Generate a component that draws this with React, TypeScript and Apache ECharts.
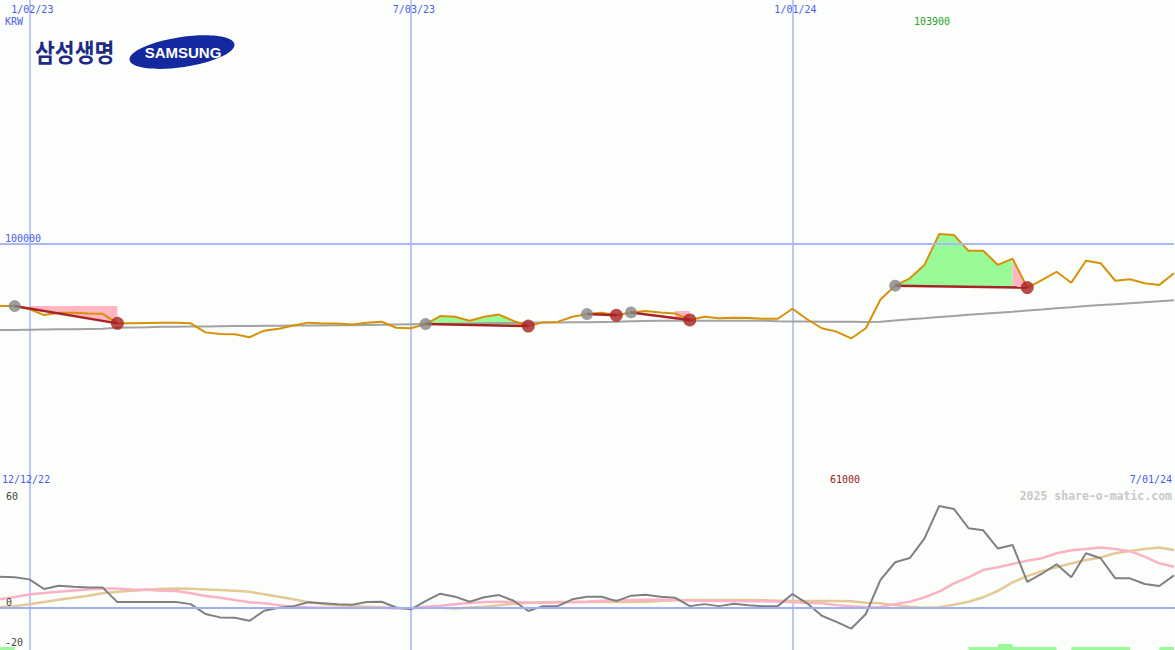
import React, { useEffect, useRef } from "react";
import * as echarts from "echarts";

// ---- categories: weekly closes, 12/19/22 .. 7/01/24 ----
const weeks: string[] = [];
for (let i = 0; i < 81; i++) {
  const d = new Date(Date.UTC(2022, 11, 19 + 7 * i));
  weeks.push(
    `${d.getUTCMonth() + 1}/${String(d.getUTCDate()).padStart(2, "0")}/${String(d.getUTCFullYear()).slice(2)}`
  );
}
const gridWeeks = ["1/02/23", "7/03/23", "1/01/24"];

// ---- price panel (KRW) ----
const close = [
  74300, 74300, 73100, 70600, 71600, 71600, 71300, 71100,
  67200, 67200, 67400, 67500, 67500, 67200, 63500, 62800,
  62700, 61500, 64200, 65000, 66300, 67500, 67100, 67100,
  66700, 67500, 67900, 65400, 65200, 66900, 70200, 69900,
  68300, 69900, 70800, 68200, 66100, 67600, 67800, 69900,
  71000, 71600, 70500, 71700, 72300, 71700, 71300, 68600,
  69900, 69300, 69500, 69400, 69100, 69100, 73200, 68900,
  65200, 63800, 61000, 65200, 77000, 82700, 85700, 91200,
  103900, 103500, 97000, 97000, 91200, 93800, 81900, 85000,
  88400, 83900, 92900, 91900, 84700, 85300, 83700, 83000, 87800,
];
const longMA = [
  64500, 64500, 64600, 64700, 64800, 64800, 64900, 65000,
  65400, 65500, 65600, 65800, 65800, 65900, 65900, 66000,
  66100, 66100, 66200, 66200, 66300, 66300, 66300, 66400,
  66400, 66500, 66600, 66700, 66800, 66900, 67000, 67000,
  67100, 67200, 67300, 67400, 67500, 67600, 67600, 67700,
  67700, 67800, 67900, 68100, 68200, 68300, 68300, 68300,
  68300, 68300, 68300, 68300, 68300, 68100, 68000, 68000,
  67900, 67900, 67900, 67800, 67900, 68400, 68900, 69300,
  69800, 70200, 70700, 71100, 71600, 72000, 72500, 72900,
  73400, 73800, 74300, 74700, 75100, 75500, 75900, 76300, 76700,
];
// trades: entry / exit week index
const tradeEntry = [1, 29, 40, 43, 61];
const tradeExit = [8, 36, 42, 47, 70];
// shaded zones [fromWeek, toWeek]
const gainFills = [
  [29, 35],
  [61, 69],
];
const lossFills = [
  [2, 8],
  [35, 36],
  [46, 47],
  [69, 70],
];
const lossTops: (number | null)[] = [74300, null, 72300, null];

// ---- indicator panel ----
const osc = [
  15.4, 15.1, 14.1, 9.3, 10.9, 10.4, 10.0, 10.0, 2.8, 2.8,
  2.8, 2.8, 2.8, 1.8, -3.1, -4.8, -5.0, -6.5, -1.5, 0.0,
  0.8, 2.7, 2.2, 1.7, 1.5, 2.8, 3.0, 0.1, -0.8, 3.3,
  7.0, 5.5, 3.0, 5.2, 6.3, 3.5, -1.6, 0.8, 0.8, 4.2,
  5.5, 5.5, 3.3, 6.0, 6.5, 5.5, 5.0, 0.8, 1.8, 0.8,
  2.0, 1.2, 0.8, 0.8, 6.8, 2.2, -4.0, -7.0, -10.4, -3.1,
  13.8, 22.6, 24.7, 34.5, 50.6, 49.1, 39.5, 38.5, 29.4, 31.2,
  12.9, 16.9, 21.6, 15.1, 27.1, 24.6, 14.6, 14.6, 11.8, 10.8, 16.1,
];
const pinkAvg = [
  4.2, 5.3, 6.6, 7.3, 8.0, 8.6, 9.1, 9.5, 9.6, 9.1,
  9.0, 8.5, 8.3, 7.2, 5.8, 5.0, 3.8, 2.7, 2.2, 1.3,
  0.5, 0.2, 0.0, 0.0, -0.1, 0.0, 0.0, -0.2, -0.3, 0.5,
  1.0, 1.7, 2.3, 2.8, 3.0, 3.0, 2.5, 2.5, 2.6, 2.8,
  3.0, 3.5, 3.7, 3.8, 4.0, 4.0, 3.9, 3.6, 3.3, 3.3,
  3.3, 3.2, 3.2, 3.1, 2.7, 2.5, 2.2, 1.3, 0.7, 0.3,
  0.4, 1.8, 3.0, 5.2, 8.0, 12.1, 15.1, 18.8, 20.1, 21.7,
  23.4, 24.6, 27.1, 28.6, 29.2, 29.9, 29.2, 28.1, 25.4, 22.1, 20.4,
];
const tanAvg = [
  0.2, 0.8, 1.7, 2.8, 4.0, 5.0, 6.0, 7.2, 8.0, 8.5,
  9.0, 9.3, 9.5, 9.4, 9.1, 8.8, 8.5, 7.9, 6.7, 5.5,
  4.2, 2.8, 1.8, 1.2, 0.8, 0.5, 0.2, -0.2, -0.3, 0.0,
  0.0, -0.4, 0.1, 0.5, 1.2, 2.0, 2.5, 2.7, 2.8, 2.8,
  2.8, 2.8, 2.9, 2.9, 3.0, 3.3, 3.7, 3.8, 3.8, 3.8,
  3.8, 3.8, 3.7, 3.5, 3.3, 3.3, 3.3, 3.3, 3.2, 2.5,
  2.2, 1.3, 0.5, 0.0, 0.3, 1.5, 3.0, 5.2, 8.4, 12.6,
  15.7, 18.2, 20.1, 22.0, 23.7, 25.0, 27.1, 28.2, 29.2, 29.9, 28.7,
];
const signal = [
  1, 0, 0, 0, 0, 0, 0, 0, 0, 0,
  0, 0, 0, 0, 0, 0, 0, 0, 0, 0,
  0, 0, 0, 0, 0, 0, 0, 0, 0, 0,
  0, 0, 0, 0, 0, 0, 0, 0, 0, 0,
  0, 0, 0, 0, 0, 0, 0, 0, 0, 0,
  0, 0, 0, 0, 0, 0, 0, 0, 0, 0,
  0, 0, 0, 0, 0, 0, 1, 1, 2, 1,
  1, 1, 0, 1, 1, 1, 1, 0, 0, 1, 1,
];

const BLUE_TXT = "#4a5cf0";
const VLINE = "#a4b4f6";
const MONO = "DejaVu Sans Mono";

function makeFill(fills: number[][], color: string, tops: (number | null)[] | null) {
  return {
    type: "custom",
    xAxisIndex: 0,
    yAxisIndex: 0,
    z: 1,
    silent: true,
    data: fills.map((f) => [f[0], f[1]]),
    renderItem: (params: any, api: any) => {
      const from = fills[params.dataIndex][0];
      const to = fills[params.dataIndex][1];
      const t = tradeEntry.findIndex((e, k) => e <= from && to <= tradeExit[k]);
      const p0 = api.coord([tradeEntry[t], close[tradeEntry[t]]]);
      const p1 = api.coord([tradeExit[t], close[tradeExit[t]]]);
      const lineY = (x: number) => p0[1] + ((x - p0[0]) * (p1[1] - p0[1])) / (p1[0] - p0[0]);
      const top = tops ? tops[params.dataIndex] : null;
      const pts: number[][] = [];
      if (top == null) {
        for (let i = from; i <= to; i++) pts.push(api.coord([i, close[i]]));
      } else {
        pts.push(api.coord([from, top]));
        pts.push(api.coord([to, top]));
      }
      const xa = api.coord([from, 0])[0];
      const xb = api.coord([to, 0])[0];
      pts.push([xb, lineY(xb)], [xa, lineY(xa)]);
      return { type: "polygon", shape: { points: pts }, style: { fill: color } };
    },
  };
}

const isGrid = (_i: number, v: string) => gridWeeks.includes(v);

function txt(text: string, x: number, y: number, fill: string, align = "left", extra: any = {}) {
  return {
    type: "text",
    x,
    y,
    silent: true,
    z: 50,
    style: { text, fill, fontFamily: MONO, fontSize: 10, align, verticalAlign: "middle", ...extra },
  };
}

export default function App() {
  const ref = useRef<HTMLDivElement>(null);
  useEffect(() => {
    if (!ref.current) return;
    const chart = echarts.init(ref.current, undefined, { renderer: "svg" });
    const option: any = {
      animation: false,
      backgroundColor: "#fcfefc",
      grid: [
        { left: 0, right: 1, top: 0, height: 487 },
        { left: 0, right: 1, top: 487, height: 163 },
      ],
      xAxis: [
        {
          type: "category",
          gridIndex: 0,
          data: weeks,
          boundaryGap: false,
          position: "top",
          axisLine: { show: false },
          axisTick: { show: false },
          axisLabel: {
            inside: true,
            margin: 4,
            interval: isGrid,
            color: BLUE_TXT,
            fontFamily: MONO,
            fontSize: 10,
            padding: [0, 0, 0, 6],
          },
          splitLine: { show: true, interval: isGrid, lineStyle: { color: VLINE, width: 1.5 } },
        },
        {
          type: "category",
          gridIndex: 1,
          data: weeks,
          boundaryGap: false,
          position: "top",
          axisLine: { show: true, lineStyle: { color: "#7485ee", width: 2 } },
          axisTick: { show: false },
          axisLabel: { show: false },
          splitLine: { show: true, interval: isGrid, lineStyle: { color: VLINE, width: 1.5 } },
        },
      ],
      yAxis: [
        { type: "value", gridIndex: 0, min: 0, max: 200000, show: false },
        { type: "value", gridIndex: 1, min: -21, max: 60, show: false },
        { type: "value", gridIndex: 1, min: 0, max: 54, show: false },
      ],
      series: [
        makeFill(gainFills, "#98fb98", null),
        makeFill(lossFills, "#ffb6c1", lossTops),
        {
          type: "line",
          name: "long average",
          xAxisIndex: 0,
          yAxisIndex: 0,
          data: longMA,
          symbol: "none",
          z: 2,
          lineStyle: { color: "#a2a2a2", width: 2 },
          markLine: {
            silent: true,
            symbol: ["none", "none"],
            label: { show: false },
            lineStyle: { color: "#a8b8f8", width: 2, type: "solid" },
            data: [{ yAxis: 100000 }],
          },
        },
        {
          type: "line",
          name: "close",
          xAxisIndex: 0,
          yAxisIndex: 0,
          data: close,
          symbol: "none",
          z: 3,
          lineStyle: { color: "#d8900a", width: 2 },
        },
        ...tradeEntry.map((e, k) => ({
          type: "line",
          xAxisIndex: 0,
          yAxisIndex: 0,
          data: weeks.map((_, i) => (i === e || i === tradeExit[k] ? close[i] : null)),
          connectNulls: true,
          symbol: "none",
          z: 4,
          lineStyle: { color: "#a82424", width: 2.5 },
        })),
        {
          type: "scatter",
          xAxisIndex: 0,
          yAxisIndex: 0,
          data: tradeEntry.map((i) => [i, close[i]]),
          symbolSize: 12,
          z: 5,
          itemStyle: { color: "#858585" },
        },
        {
          type: "scatter",
          xAxisIndex: 0,
          yAxisIndex: 0,
          data: tradeExit.map((i) => [i, close[i]]),
          symbolSize: 13,
          z: 5,
          itemStyle: { color: "#a82020" },
        },
        {
          type: "line",
          xAxisIndex: 1,
          yAxisIndex: 2,
          data: signal,
          step: "end",
          symbol: "none",
          z: 1,
          lineStyle: { width: 0 },
          areaStyle: { color: "#98fb98", opacity: 1 },
        },
        {
          type: "line",
          xAxisIndex: 1,
          yAxisIndex: 1,
          data: tanAvg,
          symbol: "none",
          z: 2,
          lineStyle: { color: "#e4c896", width: 2.5 },
          markLine: {
            silent: true,
            symbol: ["none", "none"],
            label: { show: false },
            lineStyle: { color: "#a0b0f8", width: 2, type: "solid" },
            data: [{ yAxis: 0 }],
          },
        },
        {
          type: "line",
          xAxisIndex: 1,
          yAxisIndex: 1,
          data: pinkAvg,
          symbol: "none",
          z: 3,
          lineStyle: { color: "#fab2c6", width: 2.5 },
        },
        {
          type: "line",
          xAxisIndex: 1,
          yAxisIndex: 1,
          data: osc,
          symbol: "none",
          z: 4,
          lineStyle: { color: "#808080", width: 2 },
        },
      ],
      graphic: [
        txt("KRW", 5, 21, BLUE_TXT),
        txt("103900", 932, 21, "#28a028", "center"),
        txt("100000", 5, 238, BLUE_TXT),
        txt("12/12/22", 2, 479, BLUE_TXT),
        txt("61000", 830, 479, "#a01818"),
        txt("7/01/24", 1172, 479, BLUE_TXT, "right"),
        txt("2025 share-o-matic.com", 1172, 496, "#c8c8c8", "right", { fontWeight: "bold", fontSize: 11.5 }),
        txt("60", 6, 496, "#444444"),
        txt("0", 6, 602, "#444444"),
        txt("-20", 5, 642, "#444444"),
        {
          type: "text",
          x: 35,
          y: 51,
          scaleX: 0.9,
          scaleY: 1.05,
          originX: 0,
          originY: 0,
          silent: true,
          style: {
            text: "삼성생명",
            fill: "#1c2c84",
            fontFamily: "Noto Sans CJK KR",
            fontWeight: "bold",
            fontSize: 24,
            align: "left",
            verticalAlign: "middle",
          },
        },
        {
          type: "ellipse",
          silent: true,
          shape: { cx: 182, cy: 52, rx: 53, ry: 15 },
          rotation: 0.15,
          originX: 182,
          originY: 52,
          style: { fill: "#1428a0" },
        },
        {
          type: "text",
          x: 183,
          y: 52,
          silent: true,
          style: {
            text: "SAMSUNG",
            fill: "#ffffff",
            fontFamily: "Liberation Sans",
            fontWeight: "bold",
            fontSize: 15,
            align: "center",
            verticalAlign: "middle",
          },
        },
      ],
    };
    chart.setOption(option);
    return () => chart.dispose();
  }, []);
  return (
    <div
      ref={ref}
      style={{ position: "fixed", left: 0, top: 0, width: 1175, height: 650 }}
    />
  );
}
